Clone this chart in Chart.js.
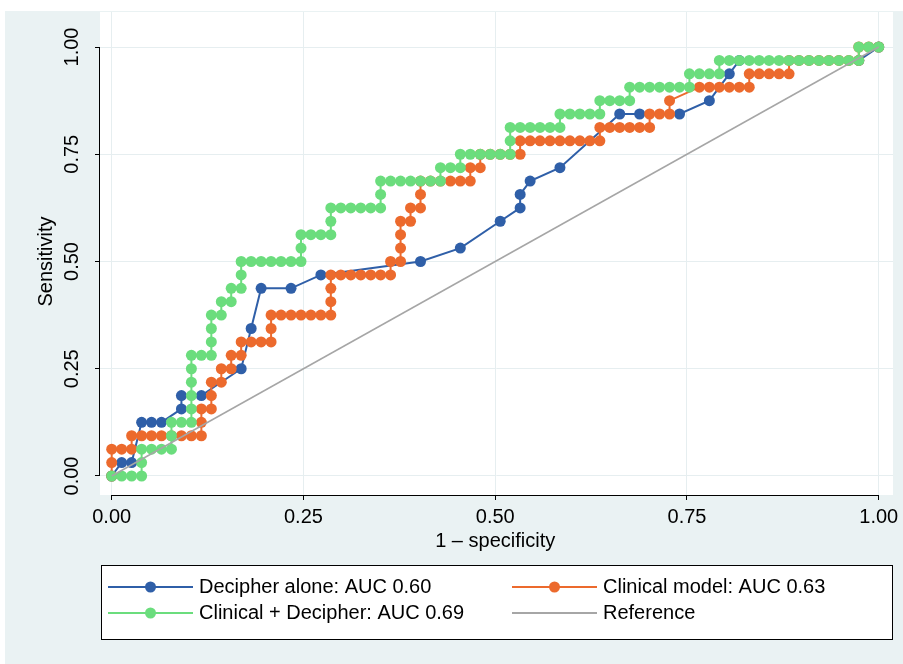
<!DOCTYPE html>
<html><head><meta charset="utf-8">
<script src="https://cdn.jsdelivr.net/npm/chart.js@4/dist/chart.umd.min.js"></script>
<style>html,body{margin:0;padding:0;background:#fff;}#wrap{width:903px;height:664px;}</style>
</head><body><div id="wrap"><canvas id="c" width="903" height="664"></canvas></div>
<script>
const tickValues = [0, 0.25, 0.5, 0.75, 1];
const tickLabels = ['0.00', '0.25', '0.50', '0.75', '1.00'];
const xTitle = '1 \u2013 specificity';
const yTitle = 'Sensitivity';
const seriesNames = ['Decipher alone: AUC 0.60', 'Clinical model: AUC 0.63', 'Clinical + Decipher: AUC 0.69', 'Reference'];

const decipherX = [0,0.013,0.026,0.039,0.0519,0.0649,0.0909,0.0909,0.1169,0.1688,0.1818,0.1948,0.2338,0.2727,0.4026,0.4545,0.5065,0.5325,0.5325,0.5455,0.5844,0.6623,0.6883,0.7403,0.7792,0.8052,0.8182,0.974,1];
const decipherY = [0,0.0313,0.0313,0.125,0.125,0.125,0.1563,0.1875,0.1875,0.25,0.3438,0.4375,0.4375,0.4688,0.5,0.5313,0.5938,0.625,0.6563,0.6875,0.7188,0.8438,0.8438,0.8438,0.875,0.9375,0.9688,0.9688,1];

const clinicalX = [0,0,0,0.013,0.026,0.026,
 0.039,0.0519,0.0649,0.0779,0.0909,0.1039,0.1169,
 0.1169,0.1169,0.1299,0.1299,0.1299,0.1429,0.1429,0.1558,0.1558,0.1688,0.1688,0.1818,0.1948,0.2078,0.2078,0.2078,
 0.2208,0.2338,0.2468,0.2597,0.2727,0.2857,
 0.2857,0.2857,0.2857,
 0.2987,0.3117,0.3247,0.3377,0.3506,0.3636,
 0.3636,0.3766,0.3766,0.3766,0.3766,0.3896,0.3896,0.4026,0.4026,0.4026,
 0.4156,0.4286,0.4416,0.4545,0.4675,
 0.4675,0.4805,0.4805,
 0.4935,0.5065,0.5195,0.5325,
 0.5325,
 0.5455,0.5584,0.5714,0.5844,0.5974,0.6104,0.6234,0.6364,
 0.6364,
 0.6494,0.6623,0.6753,0.6883,0.7013,
 0.7013,0.7143,0.7273,0.7273,
 0.7662,
 0.7792,0.7922,0.8052,0.8182,0.8312,
 0.8312,
 0.8442,0.8571,0.8701,0.8831,
 0.8831,
 0.8961,0.9091,0.9221,0.9351,0.9481,0.961,0.974,
 0.974,0.987,1];
const clinicalY = [0,0.0313,0.0625,0.0625,0.0625,0.0938,
 0.0938,0.0938,0.0938,0.0938,0.0938,0.0938,0.0938,
 0.125,0.1563,0.1563,0.1875,0.2188,0.2188,0.25,0.25,0.2813,0.2813,0.3125,0.3125,0.3125,0.3125,0.3438,0.375,
 0.375,0.375,0.375,0.375,0.375,0.375,
 0.4063,0.4375,0.4688,
 0.4688,0.4688,0.4688,0.4688,0.4688,0.4688,
 0.5,0.5,0.5313,0.5625,0.5938,0.5938,0.625,0.625,0.6563,0.6875,
 0.6875,0.6875,0.6875,0.6875,0.6875,
 0.7188,0.7188,0.75,
 0.75,0.75,0.75,0.75,
 0.7813,
 0.7813,0.7813,0.7813,0.7813,0.7813,0.7813,0.7813,0.7813,
 0.8125,
 0.8125,0.8125,0.8125,0.8125,0.8125,
 0.8438,0.8438,0.8438,0.875,
 0.9063,
 0.9063,0.9063,0.9063,0.9063,0.9063,
 0.9375,
 0.9375,0.9375,0.9375,0.9375,
 0.9688,
 0.9688,0.9688,0.9688,0.9688,0.9688,0.9688,0.9688,
 1,1,1];

const combinedX = [0,0.013,0.026,0.039,0.039,0.039,0.0519,0.0649,0.0779,0.0779,0.0779,0.0909,0.1039,0.1039,0.1039,0.1039,0.1039,0.1039,0.1169,0.1299,0.1299,0.1299,0.1299,0.1429,0.1429,0.1558,0.1558,0.1688,0.1688,0.1688,
 0.1818,0.1948,0.2078,0.2208,0.2338,0.2468,
 0.2468,0.2468,0.2597,0.2727,0.2857,0.2857,0.2857,
 0.2987,0.3117,0.3247,0.3377,0.3506,
 0.3506,0.3506,
 0.3636,0.3766,0.3896,0.4026,0.4156,0.4286,
 0.4286,0.4416,0.4545,0.4545,
 0.4675,0.4805,0.4935,0.5065,0.5195,
 0.5195,0.5195,
 0.5325,0.5455,0.5584,0.5714,0.5844,
 0.5844,
 0.5974,0.6104,0.6234,0.6364,
 0.6364,
 0.6494,0.6623,0.6753,
 0.6753,
 0.6883,0.7013,0.7143,0.7273,0.7403,0.7532,
 0.7532,
 0.7662,0.7792,0.7922,
 0.7922,
 0.8052,0.8182,0.8312,0.8442,0.8571,0.8701,0.8831,0.8961,0.9091,0.9221,0.9351,0.9481,0.961,0.974,
 0.974,0.987,1];
const combinedY = [0,0,0,0,0.0313,0.0625,0.0625,0.0625,0.0625,0.0938,0.125,0.125,0.125,0.1563,0.1875,0.2188,0.25,0.2813,0.2813,0.2813,0.3125,0.3438,0.375,0.375,0.4063,0.4063,0.4375,0.4375,0.4688,0.5,
 0.5,0.5,0.5,0.5,0.5,0.5,
 0.5313,0.5625,0.5625,0.5625,0.5625,0.5938,0.625,
 0.625,0.625,0.625,0.625,0.625,
 0.6563,0.6875,
 0.6875,0.6875,0.6875,0.6875,0.6875,0.6875,
 0.7188,0.7188,0.7188,0.75,
 0.75,0.75,0.75,0.75,0.75,
 0.7813,0.8125,
 0.8125,0.8125,0.8125,0.8125,0.8125,
 0.8438,
 0.8438,0.8438,0.8438,0.8438,
 0.875,
 0.875,0.875,0.875,
 0.9063,
 0.9063,0.9063,0.9063,0.9063,0.9063,0.9063,
 0.9375,
 0.9375,0.9375,0.9375,
 0.9688,
 0.9688,0.9688,0.9688,0.9688,0.9688,0.9688,0.9688,0.9688,0.9688,0.9688,0.9688,0.9688,0.9688,0.9688,
 1,1,1];

const referenceX = [0, 1];
const referenceY = [0, 1];

const colors = ['#2f5fa8', '#ec6a2d', '#6bdd7d', '#a6a6a6'];
const FONT = '"Liberation Sans", Arial, Helvetica, sans-serif';

function pts(xs, ys) { return xs.map((x, i) => ({x: x, y: ys[i]})); }

const bgPlugin = {
  id: 'bg',
  beforeDraw(chart) {
    const ctx = chart.ctx, a = chart.chartArea;
    ctx.save();
    ctx.fillStyle = '#ffffff';
    ctx.fillRect(0, 0, chart.width, chart.height);
    ctx.fillStyle = '#eaf2f3';
    ctx.fillRect(5, 11, chart.width - 5, chart.height - 11);
    ctx.fillStyle = '#ffffff';
    ctx.fillRect(a.left, a.top, a.right - a.left, a.bottom - a.top);
    ctx.restore();
  },
  afterDraw(chart) {
    const ctx = chart.ctx, a = chart.chartArea;
    const xs = chart.scales.x, ys = chart.scales.y;
    ctx.save();
    ctx.strokeStyle = '#000';
    ctx.lineWidth = 1;
    ctx.beginPath();
    ctx.moveTo(a.left - 0.5, ys.getPixelForValue(1));
    ctx.lineTo(a.left - 0.5, ys.getPixelForValue(0));
    ctx.moveTo(xs.getPixelForValue(0), a.bottom + 0.5);
    ctx.lineTo(xs.getPixelForValue(1), a.bottom + 0.5);
    ctx.stroke();
    ctx.fillStyle = '#000';
    ctx.font = '20px ' + FONT;
    ctx.textAlign = 'center';
    ctx.textBaseline = 'middle';
    ctx.fillText(xTitle, xs.getPixelForValue(0.5), 541);
    ctx.save();
    ctx.translate(46, ys.getPixelForValue(0.5));
    ctx.rotate(-Math.PI / 2);
    ctx.fillText(yTitle, 0, 0);
    ctx.restore();
    const lx = 101, ly = 565, lw = 792, lh = 75;
    ctx.fillStyle = '#fff';
    ctx.fillRect(lx, ly, lw, lh);
    ctx.strokeStyle = '#000';
    ctx.strokeRect(lx + 0.5, ly + 0.5, lw - 1, lh - 1);
    const slots = [[108, 587], [512, 587], [108, 613], [512, 613]];
    [0, 1, 2, 3].forEach((si, k) => {
      const [sx, sy] = slots[k];
      ctx.strokeStyle = colors[si];
      ctx.lineWidth = 2;
      ctx.beginPath();
      ctx.moveTo(sx, sy);
      ctx.lineTo(sx + 85, sy);
      ctx.stroke();
      if (si < 3) {
        ctx.fillStyle = colors[si];
        ctx.beginPath();
        ctx.arc(sx + 42.5, sy, 5.5, 0, Math.PI * 2);
        ctx.fill();
      }
      ctx.fillStyle = '#000';
      ctx.textAlign = 'left';
      ctx.textBaseline = 'middle';
      ctx.fillText(seriesNames[si], sx + 91, sy);
    });
    ctx.restore();
  }
};

const fixedTicks = (scale) => { scale.ticks = tickValues.map(v => ({value: v})); };

new Chart(document.getElementById('c'), {
  type: 'scatter',
  data: {
    datasets: [
      {label: seriesNames[3], data: pts(referenceX, referenceY), showLine: true, borderColor: colors[3], borderWidth: 1.5, pointRadius: 0, pointHoverRadius: 0},
      {label: seriesNames[2], data: pts(combinedX, combinedY), showLine: true, borderColor: colors[2], backgroundColor: colors[2], borderWidth: 2, pointRadius: 5.5, pointBorderWidth: 0},
      {label: seriesNames[1], data: pts(clinicalX, clinicalY), showLine: true, borderColor: colors[1], backgroundColor: colors[1], borderWidth: 2, pointRadius: 5.5, pointBorderWidth: 0},
      {label: seriesNames[0], data: pts(decipherX, decipherY), showLine: true, borderColor: colors[0], backgroundColor: colors[0], borderWidth: 2, pointRadius: 5.5, pointBorderWidth: 0}
    ]
  },
  options: {
    responsive: false,
    animation: false,
    devicePixelRatio: 1,
    layout: {padding: {left: 0, right: 10, top: 12, bottom: 0}},
    plugins: {legend: {display: false}, tooltip: {enabled: false}},
    scales: {
      x: {
        type: 'linear', min: -0.01525, max: 1.0186,
        afterBuildTicks: fixedTicks,
        afterFit: (s) => { s.height = 169; s.paddingLeft = 0; s.paddingRight = 0; },
        border: {display: false},
        grid: {color: '#e6eef0', lineWidth: 1, tickColor: '#000', tickLength: 5, drawTicks: true},
        ticks: {color: '#000', font: {size: 20, family: FONT}, padding: 5, maxRotation: 0, minRotation: 0,
          callback: (v) => tickLabels[tickValues.indexOf(v)]}
      },
      y: {
        type: 'linear', min: -0.0443, max: 1.0816,
        afterBuildTicks: fixedTicks,
        afterFit: (s) => { s.width = 100; s.paddingTop = 0; s.paddingBottom = 0; },
        border: {display: false},
        grid: {color: '#e6eef0', lineWidth: 1, tickColor: '#000', tickLength: 5, drawTicks: true},
        ticks: {color: '#000', font: {size: 20, family: FONT}, padding: 3.5, minRotation: 90, maxRotation: 90, crossAlign: 'center',
          callback: (v) => tickLabels[tickValues.indexOf(v)]}
      }
    }
  },
  plugins: [bgPlugin]
});
</script>
</body></html>
